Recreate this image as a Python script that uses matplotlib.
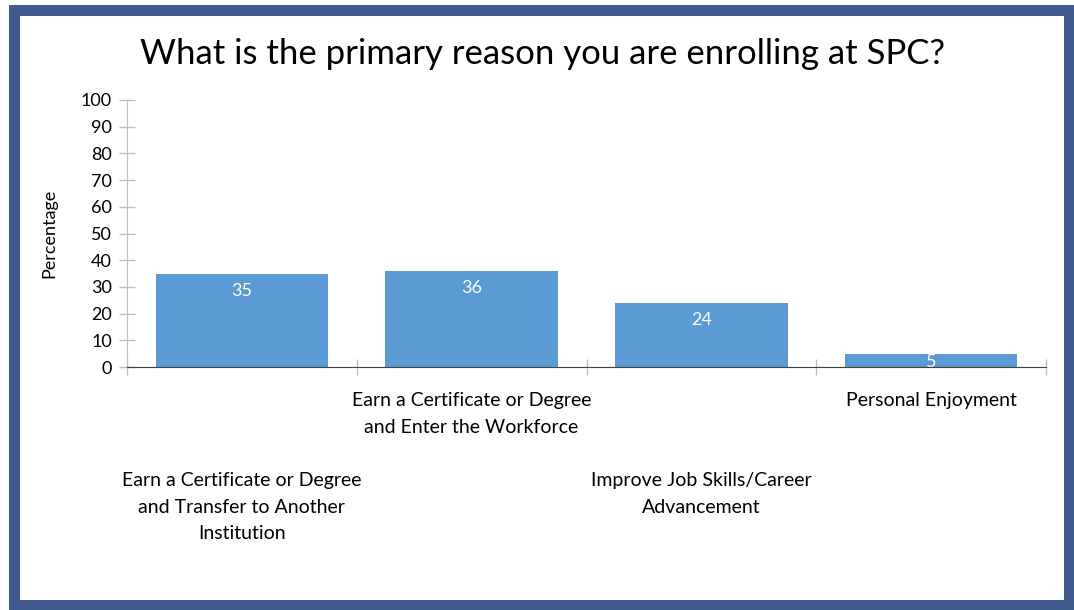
import matplotlib
matplotlib.use('Agg')
import matplotlib.pyplot as plt
from matplotlib.patches import Rectangle

plt.rcParams['font.family'] = ['Lato', 'DejaVu Sans']

# survey responses (percent)
reasons = ['Earn a Certificate or Degree\nand Transfer to Another\nInstitution',
           'Earn a Certificate or Degree\nand Enter the Workforce',
           'Improve Job Skills/Career\nAdvancement',
           'Personal Enjoyment']
percent = [35, 36, 24, 5]
label_row = [1, 0, 1, 0]  # 0 = upper row, 1 = lower row

BAR_COLOR = '#5B9BD5'
FRAME_COLOR = '#3F5A8C'

W, H = 1074, 610
fig = plt.figure(figsize=(W / 100, H / 100), dpi=100)

# blue frame around the slide
frame = Rectangle((13.5 / W, 5.5 / H), (1068.5 - 13.5) / W, (600.5 - 5.5) / H,
                  transform=fig.transFigure, facecolor='none',
                  edgecolor=FRAME_COLOR, linewidth=7.9, joinstyle='miter')
fig.patches.append(frame)

ax = fig.add_axes([127 / W, (H - 367) / H, (1046 - 127) / W, (367 - 100) / H])

x = range(len(reasons))
bars = ax.bar(x, percent, width=0.75, color=BAR_COLOR, zorder=2)

# value labels just inside the top of each bar (short bars get less room)
for xi, v in zip(x, percent):
    off = -6.5 if v >= 10 else -0.5
    ax.annotate(str(v), (xi, v), xytext=(0, off), textcoords='offset points',
                ha='center', va='top', color='white', fontsize=13, zorder=3)

ax.set_xlim(-0.5, len(reasons) - 0.5)
ax.set_ylim(0, 100)
ax.set_yticks(range(0, 101, 10))
ax.tick_params(axis='y', direction='inout', length=11.5, width=1,
               color='#BFBFBF', labelsize=13, pad=5)

# category boundaries as crossing ticks on the zero line
ax.set_xticks([i - 0.5 for i in range(len(reasons) + 1)])
ax.set_xticklabels([])
ax.tick_params(axis='x', direction='inout', length=11, width=1, color='#BFBFBF')

for s in ['top', 'right']:
    ax.spines[s].set_visible(False)
ax.spines['left'].set_color('#BFBFBF')
ax.spines['bottom'].set_color('#404040')
ax.spines['bottom'].set_zorder(4)

# staggered category labels
xtrans = ax.get_xaxis_transform()
for xi, name, row in zip(x, reasons, label_row):
    y = -25 / 267 if row == 0 else -105 / 267
    ax.text(xi, y, name, transform=xtrans, ha='center', va='top',
            fontsize=14, linespacing=1.68)

ax.set_ylabel('Percentage', fontsize=13, labelpad=17)

fig.text(0.505, (H - 54) / H, 'What is the primary reason you are enrolling at SPC?',
         ha='center', va='center', fontsize=25)

fig.savefig('out.png', dpi=100)
